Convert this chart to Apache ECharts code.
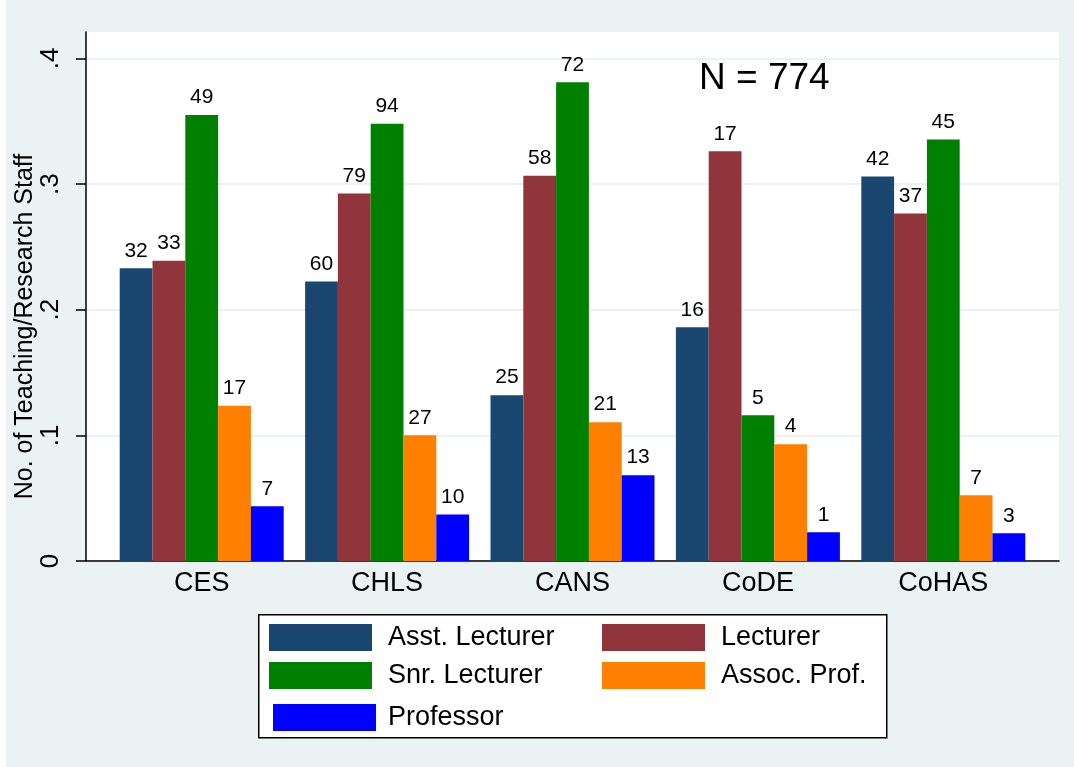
<!DOCTYPE html>
<html>
<head>
<meta charset="utf-8">
<script src="https://cdn.jsdelivr.net/npm/echarts@6/dist/echarts.min.js"></script>
<style>
  html, body { margin: 0; padding: 0; background: #fff; }
  #chart { width: 1074px; height: 767px; }
</style>
</head>
<body>
<div id="chart"></div>
<script>
const colleges = ["CES", "CHLS", "CANS", "CoDE", "CoHAS"];
const ranks = ["Asst. Lecturer", "Lecturer", "Snr. Lecturer", "Assoc. Prof.", "Professor"];
const rankColors = ["#1a476f", "#90353b", "#008000", "#ff7f00", "#0000ff"];

// bar heights (share)
const asstShare = [0.233, 0.2225, 0.132, 0.186, 0.306];
const lectShare = [0.239, 0.2925, 0.3065, 0.326, 0.2765];
const snrShare = [0.355, 0.348, 0.381, 0.116, 0.3355];
const assocShare = [0.1235, 0.100, 0.1105, 0.093, 0.0523];
const profShare = [0.0436, 0.037, 0.0683, 0.0229, 0.0221];

// counts printed above the bars
const asstCount = [32, 60, 25, 16, 42];
const lectCount = [33, 79, 58, 17, 37];
const snrCount = [49, 94, 72, 5, 45];
const assocCount = [17, 27, 21, 4, 7];
const profCount = [7, 10, 13, 1, 3];

const yTicks = [0, 0.1, 0.2, 0.3, 0.4];
const yMax = 0.421;
const totalN = 774;

const shares = [asstShare, lectShare, snrShare, assocShare, profShare];
const counts = [asstCount, lectCount, snrCount, assocCount, profCount];

const font = "'Liberation Sans', Arial, Helvetica, sans-serif";

const chart = echarts.init(document.getElementById("chart"), null, { renderer: "canvas" });

const series = ranks.map((name, i) => ({
  name: name,
  type: "bar",
  xAxisIndex: 1,
  yAxisIndex: 1,
  barWidth: 32.8,
  barGap: "0%",
  itemStyle: { color: rankColors[i] },
  label: {
    show: true,
    position: "top",
    distance: 7,
    color: "#000",
    fontFamily: font,
    fontSize: 21,
    formatter: p => String(counts[i][p.dataIndex])
  },
  data: shares[i]
}));

const legendText = {
  color: "#000",
  fontFamily: font,
  fontSize: 27,
  padding: [2, 0, 0, 11]
};

chart.setOption({
  backgroundColor: "#eaf2f3",
  animation: false,
  title: {
    text: "N = " + totalN,
    left: 699,
    top: 60,
    padding: 0,
    textStyle: { color: "#000", fontFamily: font, fontSize: 37, fontWeight: "normal" }
  },
  graphic: [
    { type: "rect", left: 0, top: 0, shape: { width: 6, height: 767 }, style: { fill: "#fff" }, z: -10 },
    {
      type: "rect", left: 258, top: 614,
      shape: { width: 628, height: 123 },
      style: { fill: "#fff", stroke: "#000", lineWidth: 1.5 },
      z: -5
    }
  ],
  legend: [
    {
      data: [ranks[0], ranks[2]],
      orient: "vertical", left: 269, top: 624,
      itemWidth: 103, itemHeight: 27, itemGap: 11, padding: 0,
      icon: "rect", selectedMode: false, textStyle: legendText
    },
    {
      data: [ranks[4]],
      orient: "vertical", left: 273, top: 704,
      itemWidth: 103, itemHeight: 27, padding: 0,
      icon: "rect", selectedMode: false,
      textStyle: Object.assign({}, legendText, { padding: [2, 0, 0, 7] })
    },
    {
      data: [ranks[1], ranks[3]],
      orient: "vertical", left: 602, top: 624,
      itemWidth: 103, itemHeight: 27, itemGap: 11, padding: 0,
      icon: "rect", selectedMode: false, textStyle: legendText
    }
  ],
  grid: [
    { left: 86, right: 15, top: 32, bottom: 206, show: true, backgroundColor: "#fff", borderWidth: 0 },
    { left: 109, right: 38, top: 32, bottom: 206 }
  ],
  xAxis: [
    {
      gridIndex: 0, type: "category", data: colleges,
      axisLine: { show: true, lineStyle: { color: "#000", width: 1.5 } },
      axisTick: { show: false }, axisLabel: { show: false }
    },
    {
      gridIndex: 1, type: "category", data: colleges,
      axisLine: { show: false }, axisTick: { show: false },
      axisLabel: { color: "#000", fontFamily: font, fontSize: 27, margin: 9 }
    }
  ],
  yAxis: [
    {
      gridIndex: 0, type: "value", min: 0, max: yMax, interval: 0.1,
      name: "No. of Teaching/Research Staff",
      nameLocation: "middle", nameRotate: 90, nameGap: 48, nameMoveOverlap: false,
      nameTextStyle: { color: "#000", fontFamily: font, fontSize: 25, padding: [0, 60, 0, 0] },
      axisLine: { show: true, lineStyle: { color: "#000", width: 1.5 } },
      axisTick: { show: true, length: 10, customValues: yTicks, lineStyle: { color: "#000", width: 1.5 } },
      axisLabel: {
        customValues: yTicks,
        rotate: 90, margin: 22,
        color: "#000", fontFamily: font, fontSize: 26,
        formatter: v => (v === 0 ? "0" : v.toFixed(1).replace(/^0\./, "."))
      },
      splitLine: { show: true, lineStyle: { color: "#eaf2f3", width: 2 } }
    },
    {
      gridIndex: 1, type: "value", min: 0, max: yMax, show: false,
      splitLine: { show: false }
    }
  ],
  series: series
});
</script>
</body>
</html>
